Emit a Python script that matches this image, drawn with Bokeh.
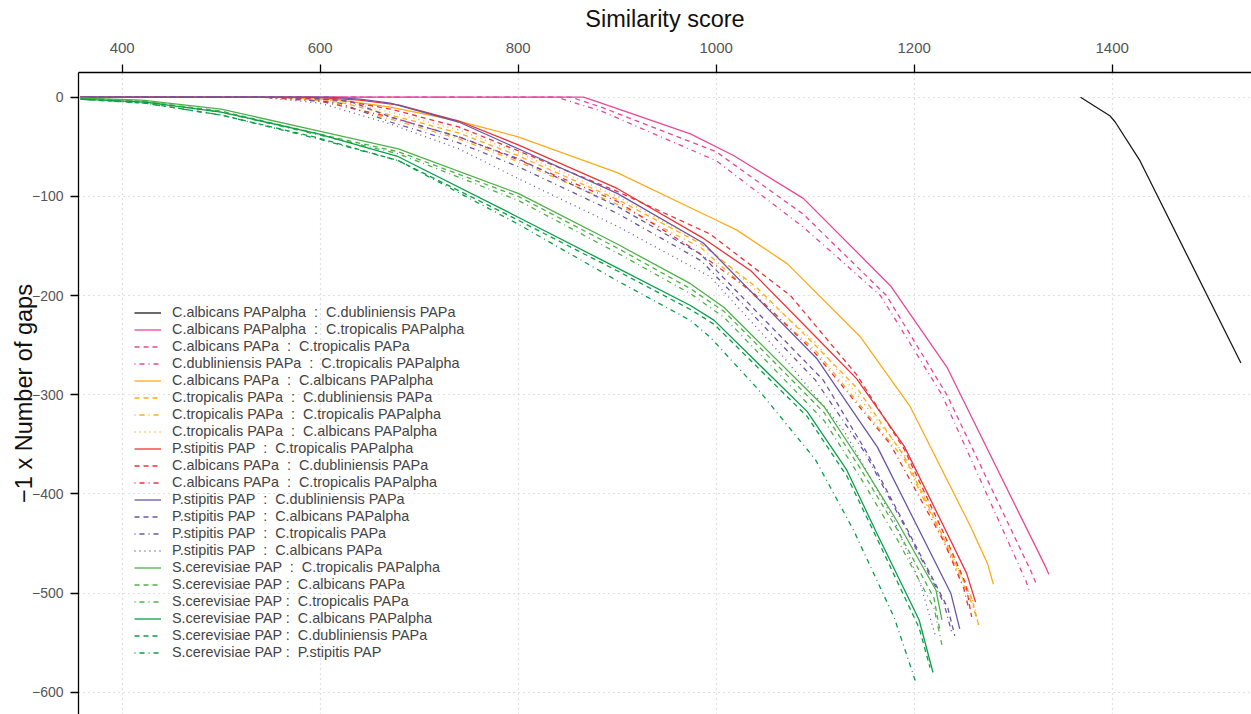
from bokeh.plotting import figure
from bokeh.models import Legend, LegendItem, FixedTicker, Range1d
from bokeh.embed import file_html
from bokeh.resources import INLINE

# ---------------- data ----------------
x_ticks = [400, 600, 800, 1000, 1200, 1400]
y_ticks = [0, -100, -200, -300, -400, -500, -600]
y_tick_labels = ["0", "\u2212100", "\u2212200", "\u2212300", "\u2212400", "\u2212500", "\u2212600"]
x_title = "Similarity score"
y_title = "\u22121 x Number of gaps"

labels = [
    "C.albicans PAPalpha  :  C.dubliniensis PAPa",
    "C.albicans PAPalpha  :  C.tropicalis PAPalpha",
    "C.albicans PAPa  :  C.tropicalis PAPa",
    "C.dubliniensis PAPa  :  C.tropicalis PAPalpha",
    "C.albicans PAPa  :  C.albicans PAPalpha",
    "C.tropicalis PAPa  :  C.dubliniensis PAPa",
    "C.tropicalis PAPa  :  C.tropicalis PAPalpha",
    "C.tropicalis PAPa  :  C.albicans PAPalpha",
    "P.stipitis PAP  :  C.tropicalis PAPalpha",
    "C.albicans PAPa  :  C.dubliniensis PAPa",
    "C.albicans PAPa  :  C.tropicalis PAPalpha",
    "P.stipitis PAP  :  C.dubliniensis PAPa",
    "P.stipitis PAP  :  C.albicans PAPalpha",
    "P.stipitis PAP  :  C.tropicalis PAPa",
    "P.stipitis PAP  :  C.albicans PAPa",
    "S.cerevisiae PAP  :  C.tropicalis PAPalpha",
    "S.cerevisiae PAP :  C.albicans PAPa",
    "S.cerevisiae PAP :  C.tropicalis PAPa",
    "S.cerevisiae PAP :  C.albicans PAPalpha",
    "S.cerevisiae PAP :  C.dubliniensis PAPa",
    "S.cerevisiae PAP :  P.stipitis PAP",
]

score_01 = [1368, 1398, 1403, 1428, 1530]
gaps_01 = [0, -19, -25, -64, -268]
score_02 = [358, 866, 884, 974, 1018, 1088, 1176, 1233, 1333, 1336]
gaps_02 = [0, 0, -6, -37, -59, -102, -190, -272, -474, -481]
score_03 = [358, 853, 884, 1000, 1088, 1172, 1233, 1318, 1323]
gaps_03 = [0, 0, -10, -55, -118, -200, -300, -478, -490]
score_04 = [358, 839, 884, 1000, 1088, 1166, 1228, 1313, 1317]
gaps_04 = [0, 0, -14, -64, -131, -200, -300, -488, -500]
score_05 = [358, 560, 620, 671, 740, 800, 900, 994, 1021, 1072, 1146, 1196, 1257, 1274, 1280]
gaps_05 = [0, 0, -3, -10, -24, -40, -76, -121, -134, -168, -242, -312, -433, -470, -491]
score_06 = [358, 560, 620, 671, 740, 800, 900, 985, 1041, 1100, 1142, 1190, 1230, 1258, 1265]
gaps_06 = [0, 0, -5, -18, -36, -59, -103, -148, -192, -250, -293, -362, -445, -505, -532]
score_07 = [358, 550, 610, 671, 740, 800, 900, 985, 1100, 1190, 1230, 1258, 1264]
gaps_07 = [0, 0, -5, -22, -42, -65, -108, -152, -255, -365, -447, -510, -528]
score_08 = [358, 560, 620, 671, 740, 800, 900, 985, 1100, 1190, 1230, 1260, 1266]
gaps_08 = [0, 0, -4, -15, -33, -56, -100, -146, -247, -360, -443, -510, -535]
score_09 = [358, 590, 640, 680, 740, 800, 900, 985, 1035, 1100, 1142, 1190, 1230, 1253, 1262]
gaps_09 = [0, 0, -3, -8, -24, -48, -92, -141, -175, -241, -284, -352, -433, -480, -509]
score_10 = [358, 560, 620, 671, 740, 800, 900, 994, 1075, 1142, 1190, 1230, 1252, 1258]
gaps_10 = [0, 0, -3, -12, -30, -54, -95, -138, -200, -280, -355, -440, -490, -524]
score_11 = [358, 540, 600, 671, 740, 800, 900, 974, 1035, 1100, 1176, 1230, 1250, 1255]
gaps_11 = [0, 0, -4, -20, -40, -63, -105, -151, -195, -258, -350, -448, -495, -515]
score_12 = [358, 610, 640, 671, 740, 800, 900, 987, 1102, 1163, 1237, 1246]
gaps_12 = [0, 0, -2, -6, -25, -52, -97, -147, -264, -353, -500, -536]
score_13 = [358, 580, 630, 671, 740, 800, 900, 984, 1108, 1152, 1190, 1234, 1241]
gaps_13 = [0, 0, -4, -20, -40, -62, -110, -158, -285, -358, -430, -515, -543]
score_14 = [358, 560, 620, 671, 740, 800, 900, 985, 1100, 1150, 1190, 1230, 1238]
gaps_14 = [0, 0, -6, -25, -46, -70, -117, -165, -285, -358, -432, -510, -540]
score_15 = [358, 540, 600, 671, 740, 800, 900, 994, 1068, 1129, 1180, 1206, 1222]
gaps_15 = [0, 0, -6, -27, -52, -82, -130, -181, -262, -336, -427, -490, -545]
score_16 = [358, 420, 500, 598, 679, 800, 900, 974, 1008, 1109, 1146, 1183, 1222, 1228]
gaps_16 = [-1, -3, -12, -34, -52, -97, -148, -188, -212, -312, -368, -428, -497, -527]
score_17 = [358, 420, 500, 598, 679, 800, 900, 974, 1008, 1109, 1146, 1183, 1220, 1226]
gaps_17 = [-1, -4, -14, -37, -55, -100, -152, -193, -216, -318, -375, -436, -505, -538]
score_18 = [358, 420, 500, 598, 679, 800, 900, 974, 1008, 1109, 1146, 1183, 1220, 1228]
gaps_18 = [-1, -4, -15, -38, -57, -104, -157, -198, -222, -326, -384, -446, -515, -552]
score_19 = [358, 423, 500, 598, 679, 800, 900, 974, 998, 1092, 1132, 1161, 1205, 1219]
gaps_19 = [-2, -5, -15, -37, -60, -121, -172, -210, -225, -317, -376, -437, -527, -580]
score_20 = [358, 423, 500, 598, 679, 800, 900, 974, 998, 1092, 1132, 1161, 1205, 1216]
gaps_20 = [-2, -6, -18, -41, -64, -124, -175, -214, -229, -322, -382, -442, -535, -575]
score_21 = [358, 423, 500, 598, 679, 800, 900, 974, 994, 1041, 1100, 1139, 1180, 1201]
gaps_21 = [-2, -6, -18, -42, -64, -128, -185, -225, -242, -293, -365, -437, -525, -588]

scores = [score_01, score_02, score_03, score_04, score_05, score_06, score_07,
          score_08, score_09, score_10, score_11, score_12, score_13, score_14,
          score_15, score_16, score_17, score_18, score_19, score_20, score_21]
gaps = [gaps_01, gaps_02, gaps_03, gaps_04, gaps_05, gaps_06, gaps_07,
        gaps_08, gaps_09, gaps_10, gaps_11, gaps_12, gaps_13, gaps_14,
        gaps_15, gaps_16, gaps_17, gaps_18, gaps_19, gaps_20, gaps_21]

# ---------------- styles ----------------
BLACK, PINK, ORANGE, RED, PURPLE, LGREEN, DGREEN = (
    "#1a1a1a", "#E8479A", "#FFAA1A", "#EC3338", "#6A56A8", "#4DB14A", "#0A9F4A")
colors = [BLACK, PINK, PINK, PINK, ORANGE, ORANGE, ORANGE, ORANGE, RED, RED, RED,
          PURPLE, PURPLE, PURPLE, PURPLE, LGREEN, LGREEN, LGREEN, DGREEN, DGREEN, DGREEN]
SOLID, DASH, DOTDASH, DOT = "solid", "5 4", "1 4 5 4", "1 4"
dashes = [SOLID, SOLID, DASH, DOTDASH, SOLID, DASH, DOTDASH, DOT, SOLID, DASH, DOTDASH,
          SOLID, DASH, DOTDASH, DOT, SOLID, DASH, DOTDASH, SOLID, DASH, DOTDASH]

FONT = "Liberation Sans"

p = figure(width=1251, height=714, output_backend="svg", toolbar_location=None,
           x_axis_location="above",
           x_range=Range1d(355.9, 1540.7), y_range=Range1d(-622.3, 24.9),
           min_border_left=78, min_border_top=72, min_border_right=0, min_border_bottom=0)
p.outline_line_color = None
p.background_fill_color = "white"
p.border_fill_color = "white"

xa = p.xaxis[0]
ya = p.yaxis[0]
xa.ticker = FixedTicker(ticks=x_ticks)
ya.ticker = FixedTicker(ticks=y_ticks)
ya.major_label_overrides = {t: s for t, s in zip(y_ticks, y_tick_labels)}
xa.axis_label = x_title
ya.axis_label = y_title
for ax in (xa, ya):
    ax.axis_line_color = "black"
    ax.axis_line_width = 1.3
    ax.major_tick_line_color = "black"
    ax.major_tick_line_width = 1.3
    ax.major_tick_in = 0
    ax.major_tick_out = 8
    ax.minor_tick_line_color = None
    ax.major_label_text_font = FONT
    ax.major_label_text_color = "#555555"
    ax.axis_label_text_font = FONT
    ax.axis_label_text_font_size = "23.5px"
    ax.axis_label_text_font_style = "normal"
    ax.axis_label_text_color = "#111111"
xa.major_label_text_font_size = "15px"
ya.major_label_text_font_size = "14px"
xa.major_label_standoff = 12
xa.axis_label_standoff = 8
ya.major_label_standoff = 7
ya.axis_label_standoff = -8

for g in (p.xgrid[0], p.ygrid[0]):
    g.grid_line_color = "#C4C4C4"
    g.grid_line_dash = "1 4"
    g.grid_line_width = 1.2

items = []
for lab, xs, ys, c, d in zip(labels, scores, gaps, colors, dashes):
    r = p.line(xs, ys, line_color=c, line_width=1.3, line_dash=d)
    items.append(LegendItem(label=lab, renderers=[r]))

# legend: (x, y) of its bottom-left corner from the frame's bottom-left, in pixels
legend = Legend(items=items, location=(56, 53.5), glyph_width=27, glyph_height=17,
                label_height=17, spacing=0, padding=0, margin=0, label_standoff=11,
                label_text_font=FONT, label_text_font_size="14.4px", label_text_color="#444444",
                background_fill_alpha=0, border_line_color=None)
p.add_layout(legend)

open("out.html", "w").write(file_html(p, INLINE))
